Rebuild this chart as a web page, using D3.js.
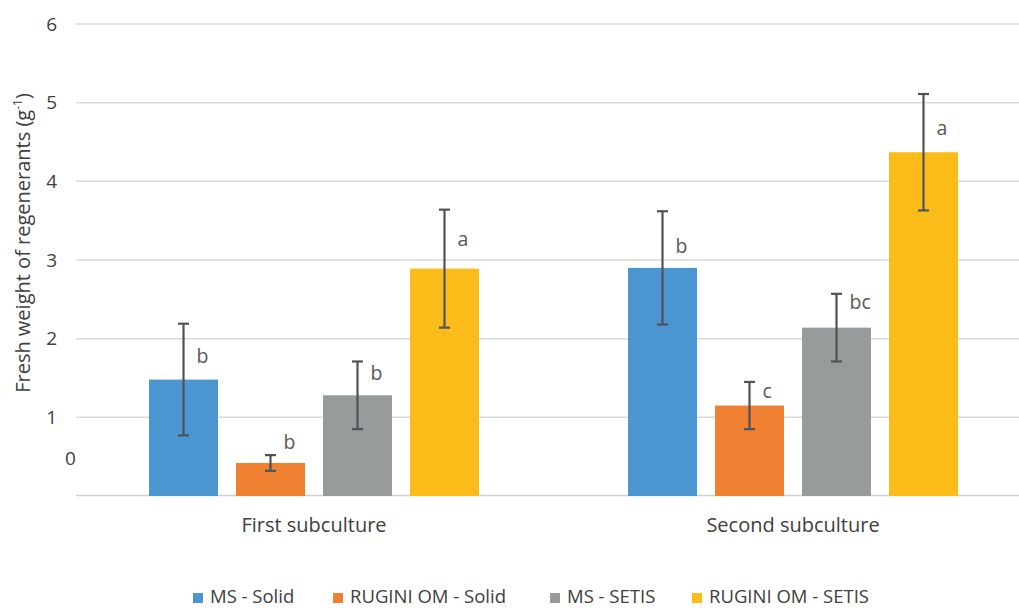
<!DOCTYPE html>
<html><head><meta charset="utf-8">
<script src="https://cdn.jsdelivr.net/npm/d3@7"></script>
<style>
html,body{margin:0;padding:0;background:#fff;overflow:hidden}
svg{display:block;font-family:"Open Sans",sans-serif}
</style></head>
<body><svg id="c" width="1019" height="608"></svg>
<script>
const categories = ["First subculture", "Second subculture"];
const series = ["MS - Solid", "RUGINI OM - Solid", "MS - SETIS", "RUGINI OM - SETIS"];
const colors = ["#4B96D1", "#F08133", "#989B9B", "#FBBC19"];
const msSolid = [1.48, 2.90];
const ruginiSolid = [0.42, 1.15];
const msSetis = [1.28, 2.14];
const ruginiSetis = [2.89, 4.37];
const errMsSolid = [0.71, 0.72];
const errRuginiSolid = [0.10, 0.30];
const errMsSetis = [0.43, 0.43];
const errRuginiSetis = [0.75, 0.74];
const letters1 = ["b", "b", "b", "a"];
const letters2 = ["b", "c", "bc", "a"];
const letterPos1 = [1.78, 0.68, 1.56, 3.27];
const letterPos2 = [3.17, 1.33, 2.46, 4.67];
const yTicks = [0, 1, 2, 3, 4, 5, 6];

const values = [msSolid, ruginiSolid, msSetis, ruginiSetis];
const errs = [errMsSolid, errRuginiSolid, errMsSetis, errRuginiSetis];
const letters = [letters1, letters2];
const letterPos = [letterPos1, letterPos2];

const svg = d3.select("#c");
const y = d3.scaleLinear().domain([0, 6]).range([496, 24]);
const x0 = d3.scaleBand().domain(categories).range([74.5, 1032.5]).paddingInner(0).paddingOuter(0);
const x1 = d3.scaleBand().domain(series).range([0, x0.bandwidth()]).paddingInner(0.207).paddingOuter(0.8565);

// gridlines
svg.append("g").selectAll("line").data(yTicks.filter(d => d > 0)).join("line")
  .attr("x1", 76).attr("x2", 1019)
  .attr("y1", d => y(d)).attr("y2", d => y(d))
  .attr("stroke", "#d9d9d9").attr("stroke-width", 1.5);
// baseline
svg.append("line").attr("x1", 76).attr("x2", 1019).attr("y1", y(0) - 0.5).attr("y2", y(0) - 0.5)
  .attr("stroke", "#d0d0d0").attr("stroke-width", 1.5);

// tick labels
svg.append("g").selectAll("text").data(yTicks.filter(d => d > 0)).join("text")
  .attr("x", 57).attr("y", d => y(d)).attr("dy", "0.35em")
  .attr("text-anchor", "end").attr("font-size", 19).attr("fill", "#404040").text(d => d);
// the "0" label sits displaced in the reference
svg.append("text").attr("x", 70.5).attr("y", y(0.48)).attr("dy", "0.35em")
  .attr("text-anchor", "middle").attr("font-size", 19).attr("fill", "#404040").text(yTicks[0]);

// axis title
const t = svg.append("text").attr("transform", "translate(30,243) rotate(-90)")
  .attr("text-anchor", "middle").attr("font-size", 20).attr("fill", "#404040");
t.append("tspan").text("Fresh weight of regenerants (g");
t.append("tspan").attr("font-size", 12).attr("dy", -8).text("-1");
t.append("tspan").attr("dy", 8).text(")");

// bars
categories.forEach((cat, ci) => {
  const g = svg.append("g").attr("transform", `translate(${x0(cat)},0)`);
  series.forEach((s, si) => {
    const v = values[si][ci], e = errs[si][ci];
    const bx = x1(s), bw = x1.bandwidth(), cx = bx + bw / 2;
    g.append("rect").attr("x", bx).attr("y", y(v)).attr("width", bw).attr("height", y(0) - y(v))
      .attr("fill", colors[si]);
    g.append("line").attr("x1", cx).attr("x2", cx).attr("y1", y(v + e)).attr("y2", y(v - e))
      .attr("stroke", "#4f5357").attr("stroke-width", 2.2);
    [v + e, v - e].forEach(ev => {
      g.append("line").attr("x1", cx - 5.5).attr("x2", cx + 5.5).attr("y1", y(ev)).attr("y2", y(ev))
        .attr("stroke", "#4f5357").attr("stroke-width", 2.2);
    });
    g.append("text").attr("x", cx + 13).attr("y", y(letterPos[ci][si])).attr("dy", "0.35em")
      .attr("font-size", 19.5).attr("fill", "#595959").text(letters[ci][si]);
  });
  svg.append("text").attr("x", x0(cat) + x0.bandwidth() / 2).attr("y", 531.5)
    .attr("text-anchor", "middle").attr("font-size", 20).attr("fill", "#404040").text(cat);
});

// legend
const legX = [193, 333, 550, 692];
const lg = svg.append("g");
series.forEach((s, i) => {
  lg.append("rect").attr("x", legX[i]).attr("y", 593).attr("width", 10).attr("height", 10).attr("fill", colors[i]);
  lg.append("text").attr("x", legX[i] + 17).attr("y", 603).attr("font-size", 18.5).attr("fill", "#404040").text(s);
});
</script></body></html>
